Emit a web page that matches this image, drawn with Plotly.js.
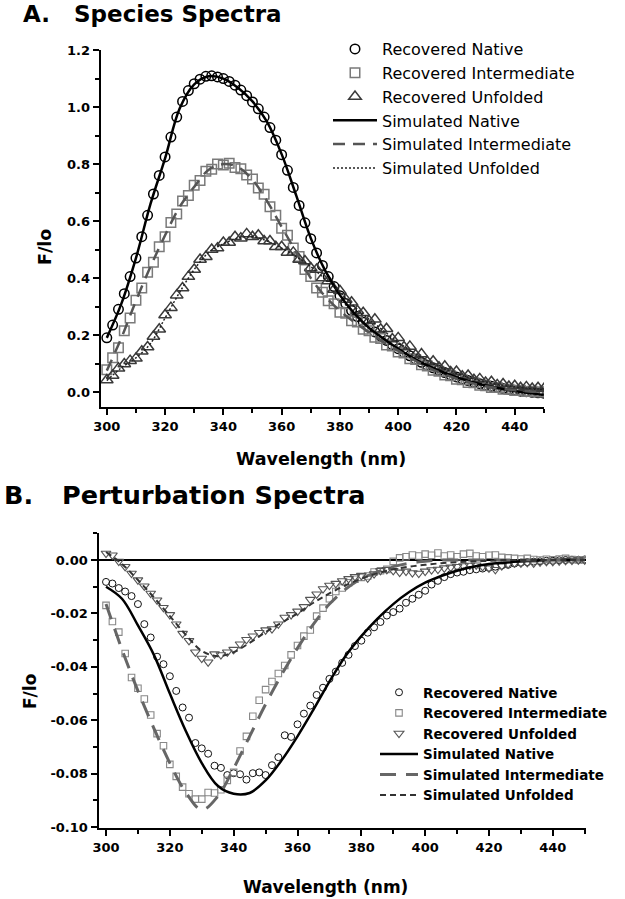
<!DOCTYPE html>
<html>
<head>
<meta charset="utf-8">
<script src="https://cdn.plot.ly/plotly-3.0.1.min.js"></script>
<style>html,body{margin:0;padding:0;background:#fff;}#chart{width:625px;height:899px;}</style>
</head>
<body>
<div id="chart"></div>
<script>
// ---------- shared wavelength grids ----------
const wlMarkers = [300,302,304,306,308,310,312,314,316,318,320,322,324,326,328,330,332,334,336,338,340,342,344,346,348,350,352,354,356,358,360,362,364,366,368,370,372,374,376,378,380,382,384,386,388,390,392,394,396,398,400,402,404,406,408,410,412,414,416,418,420,422,424,426,428,430,432,434,436,438,440,442,444,446,448,450];
const wlLine = [300,305,310,315,320,325,330,335,340,345,350,355,360,365,370,375,380,385,390,395,400,405,410,415,420,425,430,435,440,445,450];

// ---------- Panel A : species spectra ----------
const aRecNative = [0.19,0.235,0.29,0.345,0.405,0.47,0.545,0.62,0.695,0.76,0.825,0.895,0.965,1.02,1.058,1.082,1.098,1.108,1.11,1.106,1.10,1.09,1.077,1.06,1.04,1.018,0.994,0.965,0.928,0.884,0.833,0.778,0.718,0.655,0.594,0.538,0.488,0.444,0.405,0.37,0.338,0.311,0.286,0.265,0.245,0.227,0.211,0.196,0.181,0.166,0.152,0.139,0.127,0.115,0.104,0.094,0.085,0.076,0.068,0.06,0.053,0.046,0.04,0.034,0.029,0.024,0.02,0.016,0.012,0.009,0.006,0.003,0.001,-0.001,-0.003,-0.004];
const aRecInter = [0.078,0.12,0.155,0.215,0.26,0.322,0.365,0.42,0.455,0.51,0.545,0.595,0.625,0.67,0.69,0.726,0.742,0.775,0.782,0.8,0.797,0.803,0.788,0.784,0.762,0.748,0.716,0.694,0.65,0.62,0.575,0.55,0.505,0.476,0.43,0.405,0.365,0.35,0.32,0.31,0.28,0.276,0.25,0.246,0.22,0.215,0.192,0.188,0.165,0.161,0.14,0.137,0.117,0.114,0.096,0.091,0.076,0.073,0.06,0.057,0.045,0.043,0.033,0.032,0.024,0.022,0.016,0.016,0.01,0.01,0.005,0.006,0.002,0.003,0.0,0.001];
const aRecUnfold = [0.042,0.058,0.083,0.098,0.11,0.118,0.143,0.158,0.195,0.22,0.27,0.296,0.34,0.365,0.405,0.43,0.465,0.475,0.5,0.505,0.525,0.525,0.545,0.54,0.555,0.545,0.55,0.53,0.53,0.51,0.51,0.49,0.49,0.465,0.46,0.435,0.43,0.4,0.39,0.36,0.355,0.325,0.315,0.285,0.278,0.25,0.255,0.22,0.222,0.186,0.19,0.158,0.16,0.13,0.133,0.106,0.108,0.087,0.09,0.07,0.072,0.055,0.058,0.043,0.046,0.033,0.036,0.025,0.028,0.019,0.022,0.015,0.018,0.012,0.015,0.011];
const aSimNative = [0.19,0.31,0.47,0.66,0.82,0.995,1.08,1.108,1.10,1.068,1.02,0.948,0.835,0.69,0.54,0.425,0.34,0.275,0.225,0.187,0.152,0.12,0.093,0.071,0.052,0.036,0.023,0.012,0.003,-0.004,-0.01];
const aSimInter = [0.075,0.19,0.32,0.44,0.55,0.65,0.72,0.78,0.80,0.79,0.745,0.67,0.58,0.49,0.40,0.335,0.285,0.245,0.21,0.175,0.145,0.115,0.088,0.065,0.047,0.032,0.02,0.012,0.006,0.002,0.0];
const aSimUnfold = [0.04,0.085,0.12,0.17,0.26,0.35,0.43,0.49,0.52,0.54,0.545,0.53,0.505,0.475,0.44,0.395,0.35,0.30,0.255,0.215,0.175,0.14,0.11,0.085,0.065,0.048,0.035,0.025,0.018,0.013,0.01];

// ---------- Panel B : perturbation spectra ----------
const bRecNative = [-0.0082,-0.0088,-0.0105,-0.0118,-0.0135,-0.0165,-0.024,-0.029,-0.0362,-0.039,-0.0435,-0.049,-0.0552,-0.059,-0.0685,-0.0705,-0.0725,-0.077,-0.0778,-0.0805,-0.0798,-0.0802,-0.0822,-0.0798,-0.0795,-0.0805,-0.0768,-0.0738,-0.0656,-0.0662,-0.0615,-0.0575,-0.0545,-0.0505,-0.0478,-0.0445,-0.0418,-0.0385,-0.0355,-0.0322,-0.0302,-0.0272,-0.0252,-0.0232,-0.0208,-0.0195,-0.0182,-0.016,-0.0145,-0.013,-0.0115,-0.0092,-0.0078,-0.0064,-0.0053,-0.0047,-0.0044,-0.0038,-0.0035,-0.0032,-0.0029,-0.0025,-0.0021,-0.0018,-0.0013,-0.001,-0.0008,-0.0006,-0.0005,-0.0003,-0.0003,-0.0001,0.0,0.0001,0.0001,0.0002];
const bRecInter = [-0.017,-0.023,-0.027,-0.035,-0.044,-0.048,-0.052,-0.058,-0.065,-0.0695,-0.0765,-0.081,-0.085,-0.0875,-0.0895,-0.0895,-0.087,-0.0872,-0.086,-0.0825,-0.0795,-0.0715,-0.066,-0.0585,-0.0525,-0.0485,-0.0455,-0.0425,-0.0395,-0.0355,-0.032,-0.0285,-0.0262,-0.021,-0.018,-0.0145,-0.0118,-0.0105,-0.0085,-0.0072,-0.0065,-0.006,-0.0045,-0.004,-0.0035,-0.0005,0.0008,0.0012,0.0019,0.0015,0.0022,0.0018,0.0026,0.0015,0.0019,0.0012,0.0022,0.0025,0.0015,0.0012,0.0018,0.0019,0.001,0.0008,0.0006,0.0004,0.0006,0.0002,0.0,0.0003,0.0001,0.0004,0.0006,0.0002,0.0,0.0];
const bRecUnfold = [0.0025,0.0018,-0.0005,-0.0025,-0.005,-0.0075,-0.0098,-0.0125,-0.015,-0.0178,-0.0205,-0.024,-0.0275,-0.0302,-0.0345,-0.0368,-0.0382,-0.0352,-0.0355,-0.0345,-0.0335,-0.0315,-0.0298,-0.0285,-0.0272,-0.0262,-0.0258,-0.024,-0.0215,-0.0205,-0.0192,-0.0175,-0.0148,-0.0128,-0.0108,-0.0095,-0.0088,-0.0078,-0.007,-0.0062,-0.0058,-0.0068,-0.0052,-0.004,-0.0036,-0.004,-0.0046,-0.0042,-0.0048,-0.005,-0.0042,-0.0037,-0.0035,-0.003,-0.0027,-0.0025,-0.0022,-0.002,-0.0019,-0.0025,-0.003,-0.0036,-0.0022,-0.0015,-0.0012,-0.0012,-0.001,-0.0012,-0.0008,-0.0006,-0.0006,-0.0004,-0.0002,-0.0001,0.0,0.0];
const bSimNative = [-0.010,-0.0145,-0.0245,-0.0355,-0.050,-0.064,-0.076,-0.0845,-0.0875,-0.0872,-0.0825,-0.075,-0.066,-0.056,-0.0455,-0.036,-0.0285,-0.022,-0.0165,-0.012,-0.0085,-0.006,-0.004,-0.0025,-0.0015,-0.001,-0.0005,-0.0002,0.0,0.0,0.0];
const bSimInter = [-0.0165,-0.0335,-0.049,-0.063,-0.076,-0.087,-0.0935,-0.0885,-0.078,-0.066,-0.054,-0.043,-0.033,-0.024,-0.0165,-0.011,-0.007,-0.0045,-0.0025,-0.0012,-0.0005,0.0,0.0,0.0,0.0,0.0,0.0,0.0,0.0,0.0,0.0];
const bSimUnfold = [0.003,-0.0015,-0.0075,-0.014,-0.021,-0.028,-0.034,-0.036,-0.0345,-0.031,-0.027,-0.0235,-0.020,-0.016,-0.0125,-0.0095,-0.007,-0.005,-0.0035,-0.0025,-0.0018,-0.0012,-0.0008,-0.0005,-0.0003,0.0,0.0,0.0,0.0,0.0,0.0];

// ---------- tick labels ----------
const xTickVals = [300,320,340,360,380,400,420,440];
const xTickText = ['300','320','340','360','380','400','420','440'];
const aYTickVals = [0,0.2,0.4,0.6,0.8,1.0,1.2];
const aYTickText = ['0.0','0.2','0.4','0.6','0.8','1.0','1.2'];
const bYTickVals = [0,-0.02,-0.04,-0.06,-0.08,-0.10];
const bYTickText = ['0.00','-0.02','-0.04','-0.06','-0.08','-0.10'];

const names = ['Recovered Native','Recovered Intermediate','Recovered Unfolded','Simulated Native','Simulated Intermediate','Simulated Unfolded'];

const FONT = 'DejaVu Sans, Arial, sans-serif';

const traces = [
  // Panel A
  {x: wlMarkers, y: aRecNative, name: names[0], mode:'markers', type:'scatter', xaxis:'x', yaxis:'y', legend:'legend',
   marker:{symbol:'circle-open', size:9.5, color:'#000', line:{width:1.5, color:'#000'}}},
  {x: wlMarkers, y: aRecInter, name: names[1], mode:'markers', type:'scatter', xaxis:'x', yaxis:'y', legend:'legend',
   marker:{symbol:'square-open', size:9.5, color:'#7a7a7a', line:{width:1.5, color:'#7a7a7a'}}},
  {x: wlMarkers, y: aRecUnfold, name: names[2], mode:'markers', type:'scatter', xaxis:'x', yaxis:'y', legend:'legend',
   marker:{symbol:'triangle-up-open', size:11, color:'#3a3a3a', line:{width:1.5, color:'#3a3a3a'}}},
  {x: wlLine, y: aSimNative, name: names[3], mode:'lines', type:'scatter', xaxis:'x', yaxis:'y', legend:'legend',
   line:{color:'#000', width:2.5, shape:'spline'}},
  {x: wlLine, y: aSimInter, name: names[4], mode:'lines', type:'scatter', xaxis:'x', yaxis:'y', legend:'legend',
   line:{color:'#555', width:2.5, dash:'12px,8px', shape:'spline'}},
  {x: wlLine, y: aSimUnfold, name: names[5], mode:'lines', type:'scatter', xaxis:'x', yaxis:'y', legend:'legend',
   line:{color:'#222', width:1.5, dash:'2px,2px', shape:'spline'}},
  // Panel B
  {x: wlMarkers, y: bRecNative, name: names[0], mode:'markers', type:'scatter', xaxis:'x2', yaxis:'y2', legend:'legend2',
   marker:{symbol:'circle-open', size:7, color:'#111', line:{width:1, color:'#111'}}},
  {x: wlMarkers, y: bRecInter, name: names[1], mode:'markers', type:'scatter', xaxis:'x2', yaxis:'y2', legend:'legend2',
   marker:{symbol:'square-open', size:6.5, color:'#888', line:{width:1.1, color:'#888'}}},
  {x: wlMarkers, y: bRecUnfold, name: names[2], mode:'markers', type:'scatter', xaxis:'x2', yaxis:'y2', legend:'legend2',
   marker:{symbol:'triangle-down-open', size:8.5, color:'#555', line:{width:1.1, color:'#555'}}},
  {x: wlLine, y: bSimNative, name: names[3], mode:'lines', type:'scatter', xaxis:'x2', yaxis:'y2', legend:'legend2',
   line:{color:'#000', width:2.5, shape:'spline'}},
  {x: wlLine, y: bSimInter, name: names[4], mode:'lines', type:'scatter', xaxis:'x2', yaxis:'y2', legend:'legend2',
   line:{color:'#666', width:3, dash:'16px,10px', shape:'spline'}},
  {x: wlLine, y: bSimUnfold, name: names[5], mode:'lines', type:'scatter', xaxis:'x2', yaxis:'y2', legend:'legend2',
   line:{color:'#333', width:2, dash:'6px,4px', shape:'spline'}}
];

function axisBase(lw) {
  return {
    showline:true, linecolor:'#000', linewidth:lw, showgrid:false, zeroline:false,
    ticks:'outside', ticklen:6, tickwidth:2, tickcolor:'#000',
    tickfont:{family:FONT, size:13, color:'#000', weight:'bold'},
    fixedrange:true
  };
}

const layout = {
  width:625, height:899,
  margin:{l:0, r:0, t:0, b:0},
  paper_bgcolor:'#fff', plot_bgcolor:'rgba(0,0,0,0)',
  font:{family:FONT, color:'#000'},
  showlegend:true,
  xaxis: Object.assign(axisBase(2), {
    domain:[0.1611, 0.8704], range:[297.9, 450.05], anchor:'y',
    tickmode:'array', tickvals:xTickVals, ticktext:xTickText,
    minor:{ticks:'outside', ticklen:4, tickwidth:2, tickcolor:'#000', dtick:10, tick0:0, showgrid:false}
  }),
  yaxis: Object.assign(axisBase(2), {
    domain:[0.5473, 0.9444], range:[-0.0526, 1.2005], anchor:'x',
    tickmode:'array', tickvals:aYTickVals, ticktext:aYTickText,
    minor:{ticks:'outside', ticklen:4, tickwidth:2, tickcolor:'#000', dtick:0.1, tick0:0, showgrid:false}
  }),
  xaxis2: Object.assign(axisBase(2.5), {
    domain:[0.1584, 0.9376], range:[297.8, 450.4], anchor:'y2',
    tickmode:'array', tickvals:xTickVals, ticktext:xTickText,
    minor:{ticks:'outside', ticklen:4, tickwidth:2, tickcolor:'#000', dtick:10, tick0:0, showgrid:false}
  }),
  yaxis2: Object.assign(axisBase(2.5), {
    domain:[0.0790, 0.4071], range:[-0.1003, 0.0101], anchor:'x2',
    tickmode:'array', tickvals:bYTickVals, ticktext:bYTickText,
    zeroline:true, zerolinecolor:'#000', zerolinewidth:2,
    minor:{ticks:'outside', ticklen:4, tickwidth:2, tickcolor:'#000', dtick:0.01, tick0:0, showgrid:false}
  }),
  legend:{
    x:328/625, y:1-32/899, xanchor:'left', yanchor:'top',
    bgcolor:'rgba(0,0,0,0)', borderwidth:0, itemwidth:44, tracegroupgap:0,
    font:{family:FONT, size:16, color:'#000'}
  },
  legend2:{
    x:375/625, y:1-677/899, xanchor:'left', yanchor:'top',
    bgcolor:'rgba(0,0,0,0)', borderwidth:0, itemwidth:38, tracegroupgap:0,
    font:{family:FONT, size:13.5, color:'#000', weight:'bold'}
  },
  annotations:[
    {text:'A.', xref:'paper', yref:'paper', x:21/625, y:1-14/899, xanchor:'left', yanchor:'middle', showarrow:false,
     font:{family:FONT, size:23, color:'#000', weight:'bold'}},
    {text:'Species Spectra', xref:'paper', yref:'paper', x:72/625, y:1-14/899, xanchor:'left', yanchor:'middle', showarrow:false,
     font:{family:FONT, size:23, color:'#000', weight:'bold'}},
    {text:'B.', xref:'paper', yref:'paper', x:2/625, y:1-495/899, xanchor:'left', yanchor:'middle', showarrow:false,
     font:{family:FONT, size:25.5, color:'#000', weight:'bold'}},
    {text:'Perturbation Spectra', xref:'paper', yref:'paper', x:60/625, y:1-495/899, xanchor:'left', yanchor:'middle', showarrow:false,
     font:{family:FONT, size:25.5, color:'#000', weight:'bold'}},
    {text:'Wavelength (nm)', xref:'paper', yref:'paper', x:321/625, y:1-459/899, xanchor:'center', yanchor:'middle', showarrow:false,
     font:{family:FONT, size:17.5, color:'#000', weight:'bold'}},
    {text:'F/lo', xref:'paper', yref:'paper', x:45/625, y:1-247/899, xanchor:'center', yanchor:'middle', textangle:-90, showarrow:false,
     font:{family:FONT, size:17.5, color:'#000', weight:'bold'}},
    {text:'Wavelength (nm)', xref:'paper', yref:'paper', x:325/625, y:1-887/899, xanchor:'center', yanchor:'middle', showarrow:false,
     font:{family:FONT, size:17, color:'#000', weight:'bold'}},
    {text:'F/lo', xref:'paper', yref:'paper', x:30/625, y:1-692/899, xanchor:'center', yanchor:'middle', textangle:-90, showarrow:false,
     font:{family:FONT, size:17, color:'#000', weight:'bold'}}
  ]
};

Plotly.newPlot('chart', traces, layout, {displayModeBar:false, staticPlot:true});
</script>
</body>
</html>
